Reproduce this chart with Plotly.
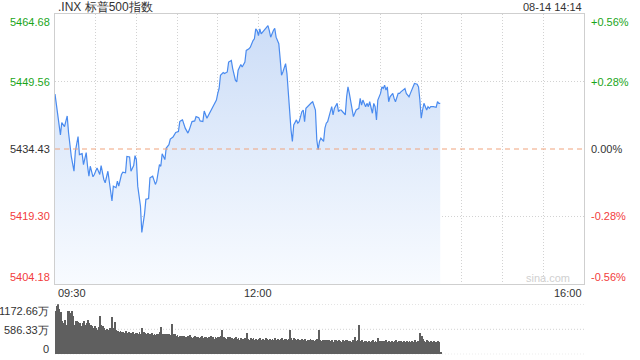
import pandas as pd
import plotly.graph_objects as go

TITLE = ".INX 标普500指数"
STAMP = "08-14 14:14"
DAY = "2024-08-14"
OPEN = "09:30"
CLOSE = "16:00"
PREV_CLOSE = 5434.43
PRICE_TICKS = [5464.68, 5449.56, 5434.43, 5419.30, 5404.18]
PCT_TICKS = ["+0.56%", "+0.28%", "0.00%", "-0.28%", "-0.56%"]
TIME_LABELS = ["09:30", "12:00", "16:00"]
VOL_TICKS = [1172.66, 586.33, 0]
VOL_LABELS = ["1172.66万", "586.33万", "0"]

# minutes after 09:30
MINUTES = [0, 4, 5, 7, 9, 10, 12, 14, 15, 17, 18, 20, 21, 23, 24, 25, 26, 28, 29, 31,
           33, 34, 36, 37, 39, 40, 42, 43, 45, 46, 47, 49, 50, 52, 53, 55, 56, 58, 59, 60,
           61, 63, 64, 66, 67, 69, 70, 72, 74, 75, 77, 78, 79, 81, 82, 84, 85, 87, 89, 91,
           92, 93, 94, 96, 98, 99, 101, 103, 104, 106, 107, 109, 110, 112, 113, 115, 117, 119, 120, 121,
           122, 124, 125, 127, 128, 130, 131, 133, 134, 135, 137, 138, 140, 141, 143, 144, 146, 147, 148, 149,
           150, 151, 152, 154, 155, 157, 158, 159, 161, 162, 163, 165, 166, 167, 168, 170, 171, 172, 173, 174,
           175, 176, 178, 179, 180, 182, 183, 184, 185, 187, 188, 189, 190, 192, 193, 194, 195, 196, 198, 199,
           200, 201, 203, 204, 205, 206, 208, 209, 210, 211, 213, 214, 215, 216, 217, 219, 220, 221, 222, 224,
           225, 226, 227, 229, 230, 231, 232, 234, 235, 236, 237, 238, 240, 241, 242, 243, 244, 245, 246, 247,
           249, 250, 251, 253, 254, 255, 257, 258, 259, 261, 262, 263, 264, 265, 267, 268, 269, 270, 271, 272,
           274, 275, 276, 277, 279, 281, 282, 283, 284]

PRICES = [5446.73, 5437.61, 5440.35, 5439.46, 5441.84, 5438.06, 5432.78, 5429.45, 5433.90, 5437.23,
          5433.16, 5433.38, 5430.94, 5433.61, 5430.56, 5428.34, 5430.56, 5428.20, 5428.71, 5430.20,
          5428.71, 5430.72, 5427.60, 5426.87, 5429.45, 5426.87, 5422.78, 5426.11, 5425.76, 5427.22,
          5426.11, 5428.71, 5429.23, 5429.09, 5432.78, 5432.65, 5429.45, 5430.72, 5432.94, 5432.05,
          5426.11, 5421.66, 5415.75, 5419.82, 5423.15, 5423.31, 5427.98, 5428.34, 5426.49, 5427.22,
          5430.94, 5430.56, 5433.38, 5432.05, 5434.65, 5435.39, 5436.65, 5437.10, 5438.12, 5438.34,
          5440.57, 5440.79, 5440.95, 5439.10, 5437.99, 5438.72, 5440.57, 5440.72, 5441.68, 5441.46,
          5440.72, 5440.57, 5442.95, 5441.33, 5441.90, 5443.17, 5444.28, 5445.40, 5446.89, 5448.00,
          5450.96, 5451.56, 5451.33, 5451.69, 5453.91, 5454.29, 5452.45, 5449.84, 5449.47, 5452.07,
          5453.34, 5452.80, 5453.91, 5456.52, 5456.89, 5457.25, 5458.74, 5459.12, 5461.34, 5460.97,
          5459.85, 5461.34, 5460.23, 5460.97, 5461.48, 5462.08, 5460.97, 5459.48, 5460.97, 5461.48,
          5459.48, 5458.01, 5454.67, 5450.96, 5451.69, 5453.56, 5451.33, 5447.24, 5441.33, 5438.72,
          5436.12, 5439.83, 5440.95, 5440.21, 5440.57, 5442.79, 5443.17, 5440.57, 5443.55, 5444.28,
          5444.50, 5444.79, 5445.02, 5443.17, 5436.50, 5434.27, 5436.12, 5436.88, 5436.12, 5439.10,
          5440.21, 5440.57, 5442.79, 5443.91, 5442.06, 5443.55, 5444.66, 5442.79, 5443.17, 5443.17,
          5442.44, 5442.06, 5446.13, 5448.35, 5446.89, 5442.79, 5441.68, 5442.44, 5443.17, 5443.55,
          5445.77, 5444.28, 5445.40, 5443.91, 5444.66, 5443.91, 5445.02, 5442.44, 5444.66, 5443.91,
          5440.95, 5445.40, 5446.89, 5448.35, 5448.00, 5448.73, 5447.62, 5448.35, 5445.02, 5446.13,
          5446.89, 5445.77, 5445.02, 5446.89, 5446.89, 5447.24, 5447.62, 5448.00, 5446.89, 5446.13,
          5446.89, 5447.62, 5448.35, 5449.11, 5448.95, 5448.35, 5445.40, 5441.33, 5443.17, 5444.66,
          5443.17, 5443.91, 5443.55, 5443.91, 5443.91, 5443.77, 5445.02, 5444.66, 5444.66]

# per-minute volume (万)
VOLUMES = [1000, 1115, 1170, 1055, 975, 765, 725, 805, 690, 1000,
           1020, 960, 1000, 880, 690, 765, 765, 740, 725, 650,
           725, 765, 690, 725, 805, 725, 690, 650, 610, 650,
           610, 570, 640, 880, 690, 650, 610, 570, 590, 560,
           600, 580, 870, 620, 745, 560, 540, 520, 530, 510,
           520, 500, 530, 490, 510, 480, 500, 520, 470, 490,
           500, 480, 510, 470, 610, 520, 490, 470, 500, 460,
           480, 500, 450, 470, 440, 460, 480, 520, 634, 470,
           450, 480, 460, 440, 470, 450, 713, 480, 460, 430,
           440, 410, 430, 420, 400, 430, 410, 390, 420, 440,
           400, 380, 410, 430, 390, 410, 370, 400, 420, 380,
           390, 410, 370, 400, 380, 420, 390, 360, 400, 380,
           410, 390, 430, 555, 400, 380, 360, 390, 370, 400,
           380, 350, 370, 390, 360, 380, 340, 370, 350, 360,
           370, 490, 360, 340, 380, 350, 370, 330, 360, 340,
           350, 380, 340, 360, 330, 370, 350, 320, 360, 340,
           350, 330, 370, 340, 360, 330, 350, 380, 340, 360,
           350, 330, 360, 555, 380, 340, 370, 350, 330, 360,
           340, 320, 350, 330, 360, 310, 340, 330, 350, 320,
           340, 310, 330, 350, 570, 320, 300, 330, 310, 340,
           320, 300, 340, 310, 330, 290, 320, 340, 300, 330,
           310, 290, 330, 300, 320, 340, 300, 310, 290, 320,
           330, 390, 310, 340, 690, 300, 320, 290, 310, 300,
           290, 310, 280, 300, 320, 290, 310, 280, 370, 300,
           290, 310, 300, 280, 320, 290, 300, 280, 310, 290,
           300, 320, 290, 310, 280, 300, 290, 310, 280, 300,
           290, 310, 280, 300, 290, 320, 280, 300, 290, 490,
           412, 350, 300, 280, 320, 300, 290, 310, 280, 300,
           290, 270, 300, 280, 55]

assert len(MINUTES) == len(PRICES)

t0 = pd.Timestamp(f"{DAY} {OPEN}")
t_end = pd.Timestamp(f"{DAY} {CLOSE}")
times = [t0 + pd.Timedelta(minutes=m) for m in MINUTES]
vol_times = [t0 + pd.Timedelta(minutes=i) for i in range(len(VOLUMES))]
grid_times = list(pd.date_range(t0, t_end, freq="30min")[1:-1])

W, H = 640, 360
X0, X1 = 55, 584
PY_TOP, PY_BOT = 14, 284
VY_TOP, VY_BOT = 304.3, 354.3

def px(x):
    return x / W

def py(y):
    return 1 - y / H

FONT = "Liberation Sans, Arial, sans-serif"
GREEN = "#1aa51a"
RED = "#f23c3c"
DARK = "#333333"
GRID = "#d2d2d2"

fig = go.Figure()

fig.add_trace(go.Scatter(
    x=times, y=[PRICE_TICKS[-1]] * len(times), mode="lines",
    line=dict(width=0), hoverinfo="skip", showlegend=False))
fig.add_trace(go.Scatter(
    x=times, y=PRICES, mode="lines",
    line=dict(color="#4a8bef", width=1.2),
    fill="tonexty",
    fillgradient=dict(type="vertical",
                      colorscale=[[0, "rgba(248,251,255,1)"], [1, "rgba(204,221,247,1)"]],
                      start=PRICE_TICKS[-1], stop=PRICE_TICKS[0] - 2),
    showlegend=False))

fig.add_trace(go.Bar(
    x=vol_times, y=VOLUMES, xaxis="x2", yaxis="y2",
    marker=dict(color="#5f5f5f", line=dict(width=0)),
    width=39000, offset=0, showlegend=False))

fig.update_layout(
    width=W, height=H,
    margin=dict(l=0, r=0, t=0, b=0),
    paper_bgcolor="white", plot_bgcolor="white",
    font=dict(family=FONT, size=11, color=DARK),
    xaxis=dict(domain=[px(X0), px(X1)], range=[t0, t_end], type="date",
               tickvals=grid_times, showticklabels=False, ticks="",
               showgrid=True, gridcolor=GRID, griddash="1px,2px", gridwidth=1,
               showline=True, linecolor="#cfcfcf", linewidth=1, mirror=True,
               zeroline=False, anchor="y"),
    yaxis=dict(domain=[py(PY_BOT), py(PY_TOP)], range=[PRICE_TICKS[-1], PRICE_TICKS[0]],
               tickvals=[PRICE_TICKS[1], PRICE_TICKS[3]], showticklabels=False, ticks="",
               showgrid=True, gridcolor=GRID, griddash="1px,2px", gridwidth=1,
               showline=True, linecolor="#cfcfcf", linewidth=1, mirror=True,
               zeroline=False, anchor="x"),
    xaxis2=dict(domain=[px(X0), px(X1)], range=[t0, t_end], type="date",
                showticklabels=False, ticks="", showgrid=False, showline=False,
                zeroline=False, anchor="y2"),
    yaxis2=dict(domain=[py(VY_BOT), py(VY_TOP)], range=[0, VOL_TICKS[0]],
                showticklabels=False, ticks="", showgrid=False, showline=False,
                zeroline=False, anchor="x2"),
    bargap=0,
    shapes=[
        dict(type="line", xref="x domain", x0=0, x1=1, yref="y", y0=PREV_CLOSE, y1=PREV_CLOSE,
             line=dict(color="#f0a37c", width=1, dash="5px,4px"), layer="above"),
    ] + [
        dict(type="line", xref="x2 domain", x0=0, x1=1, yref="y2", y0=v, y1=v,
             line=dict(color=GRID, width=1, dash="1px,2px"), layer="below")
        for v in VOL_TICKS
    ],
)

ann = []
ann.append(dict(text=TITLE, x=px(56), y=py(7), xanchor="left", yanchor="middle",
                font=dict(size=12, color=DARK)))
ann.append(dict(text=STAMP, x=px(584), y=py(7), xanchor="right", yanchor="middle",
                font=dict(size=11, color=DARK)))

label_y = [22, 82, 149, 216, 277]
label_col = [GREEN, GREEN, DARK, RED, RED]
for v, t, yy, c in zip(PRICE_TICKS, PCT_TICKS, label_y, label_col):
    ann.append(dict(text=f"{v:.2f}", x=px(52), y=py(yy), xanchor="right", yanchor="middle",
                    font=dict(size=11, color=c)))
    ann.append(dict(text=t, x=px(589), y=py(yy), xanchor="left", yanchor="middle",
                    font=dict(size=11, color=c)))

ann.append(dict(text=TIME_LABELS[0], x=px(56), y=py(293), xanchor="left", yanchor="middle",
                font=dict(size=11, color=DARK)))
ann.append(dict(text=TIME_LABELS[1], x=t0 + pd.Timedelta(minutes=150), xref="x", y=py(293),
                xanchor="center", yanchor="middle", font=dict(size=11, color=DARK)))
ann.append(dict(text=TIME_LABELS[2], x=px(584), y=py(293), xanchor="right", yanchor="middle",
                font=dict(size=11, color=DARK)))

vol_label_y = [311, 330, 349]
for t, yy in zip(VOL_LABELS, vol_label_y):
    ann.append(dict(text=t, x=px(51), y=py(yy), xanchor="right", yanchor="middle",
                    font=dict(size=11, color=DARK)))

ann.append(dict(text="sina.com", x=px(548), y=py(278), xanchor="center", yanchor="middle",
                font=dict(size=11, color="#d0d0d0")))

for a in ann:
    a.setdefault("xref", "paper")
    a.setdefault("yref", "paper")
    a["showarrow"] = False
fig.update_layout(annotations=ann)

fig.write_html("out.html")
